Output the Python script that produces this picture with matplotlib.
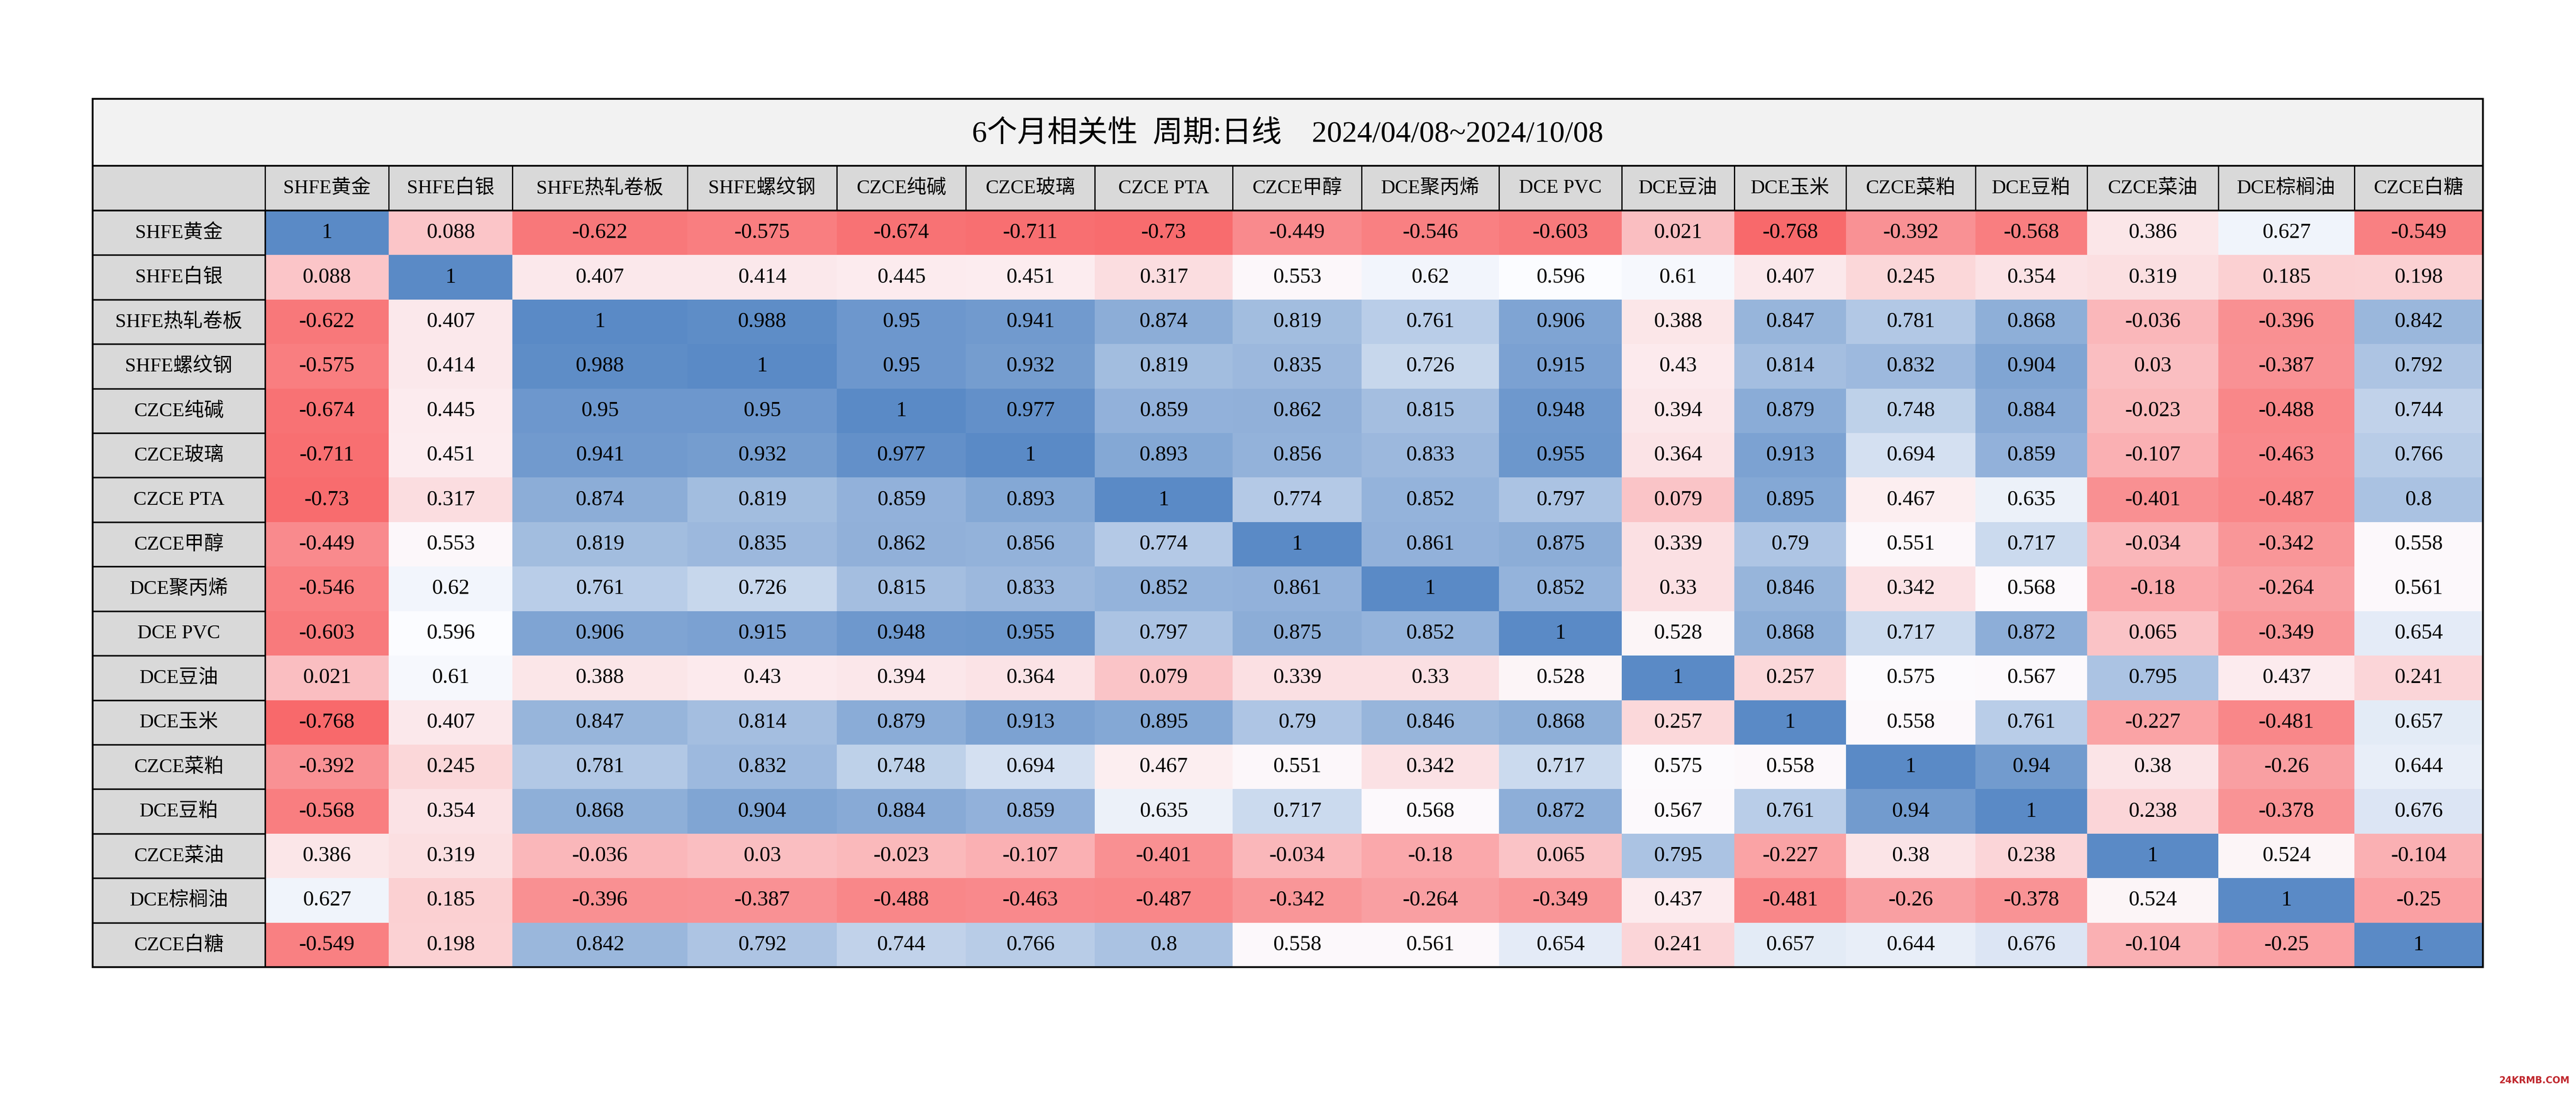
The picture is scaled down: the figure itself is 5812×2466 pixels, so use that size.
import numpy as np
import matplotlib.pyplot as plt
from matplotlib.patches import Rectangle
from matplotlib.colors import LinearSegmentedColormap, TwoSlopeNorm

plt.rcParams['font.family'] = ['Liberation Serif', 'Noto Sans CJK SC']

title = '6个月相关性  周期:日线    2024/04/08~2024/10/08'
labels = ['SHFE黄金', 'SHFE白银', 'SHFE热轧卷板', 'SHFE螺纹钢', 'CZCE纯碱', 'CZCE玻璃',
          'CZCE PTA', 'CZCE甲醇', 'DCE聚丙烯', 'DCE PVC', 'DCE豆油', 'DCE玉米',
          'CZCE菜粕', 'DCE豆粕', 'CZCE菜油', 'DCE棕榈油', 'CZCE白糖']

corr = np.array([
    [1, 0.088, -0.622, -0.575, -0.674, -0.711, -0.73, -0.449, -0.546, -0.603, 0.021, -0.768, -0.392, -0.568, 0.386, 0.627, -0.549],
    [0.088, 1, 0.407, 0.414, 0.445, 0.451, 0.317, 0.553, 0.62, 0.596, 0.61, 0.407, 0.245, 0.354, 0.319, 0.185, 0.198],
    [-0.622, 0.407, 1, 0.988, 0.95, 0.941, 0.874, 0.819, 0.761, 0.906, 0.388, 0.847, 0.781, 0.868, -0.036, -0.396, 0.842],
    [-0.575, 0.414, 0.988, 1, 0.95, 0.932, 0.819, 0.835, 0.726, 0.915, 0.43, 0.814, 0.832, 0.904, 0.03, -0.387, 0.792],
    [-0.674, 0.445, 0.95, 0.95, 1, 0.977, 0.859, 0.862, 0.815, 0.948, 0.394, 0.879, 0.748, 0.884, -0.023, -0.488, 0.744],
    [-0.711, 0.451, 0.941, 0.932, 0.977, 1, 0.893, 0.856, 0.833, 0.955, 0.364, 0.913, 0.694, 0.859, -0.107, -0.463, 0.766],
    [-0.73, 0.317, 0.874, 0.819, 0.859, 0.893, 1, 0.774, 0.852, 0.797, 0.079, 0.895, 0.467, 0.635, -0.401, -0.487, 0.8],
    [-0.449, 0.553, 0.819, 0.835, 0.862, 0.856, 0.774, 1, 0.861, 0.875, 0.339, 0.79, 0.551, 0.717, -0.034, -0.342, 0.558],
    [-0.546, 0.62, 0.761, 0.726, 0.815, 0.833, 0.852, 0.861, 1, 0.852, 0.33, 0.846, 0.342, 0.568, -0.18, -0.264, 0.561],
    [-0.603, 0.596, 0.906, 0.915, 0.948, 0.955, 0.797, 0.875, 0.852, 1, 0.528, 0.868, 0.717, 0.872, 0.065, -0.349, 0.654],
    [0.021, 0.61, 0.388, 0.43, 0.394, 0.364, 0.079, 0.339, 0.33, 0.528, 1, 0.257, 0.575, 0.567, 0.795, 0.437, 0.241],
    [-0.768, 0.407, 0.847, 0.814, 0.879, 0.913, 0.895, 0.79, 0.846, 0.868, 0.257, 1, 0.558, 0.761, -0.227, -0.481, 0.657],
    [-0.392, 0.245, 0.781, 0.832, 0.748, 0.694, 0.467, 0.551, 0.342, 0.717, 0.575, 0.558, 1, 0.94, 0.38, -0.26, 0.644],
    [-0.568, 0.354, 0.868, 0.904, 0.884, 0.859, 0.635, 0.717, 0.568, 0.872, 0.567, 0.761, 0.94, 1, 0.238, -0.378, 0.676],
    [0.386, 0.319, -0.036, 0.03, -0.023, -0.107, -0.401, -0.034, -0.18, 0.065, 0.795, -0.227, 0.38, 0.238, 1, 0.524, -0.104],
    [0.627, 0.185, -0.396, -0.387, -0.488, -0.463, -0.487, -0.342, -0.264, -0.349, 0.437, -0.481, -0.26, -0.378, 0.524, 1, -0.25],
    [-0.549, 0.198, 0.842, 0.792, 0.744, 0.766, 0.8, 0.558, 0.561, 0.654, 0.241, 0.657, 0.644, 0.676, -0.104, -0.25, 1],
])

# layout in pixels
W, H = 5812, 2466
col_edges = np.array([209, 598, 877, 1156, 1551, 1888, 2179, 2470, 2781, 3072, 3382,
                      3659, 3913, 4165, 4457, 4709, 5005, 5312, 5602])
top, title_bot, head_bot, bottom = 223, 374, 475, 2182
row_edges = np.linspace(head_bot, bottom, len(labels) + 1)
left, right = col_edges[0], col_edges[-1]
col_mid = (col_edges[:-1] + col_edges[1:]) / 2
row_mid = (row_edges[:-1] + row_edges[1:]) / 2

fig = plt.figure(figsize=(W / 100, H / 100), dpi=100)
ax = fig.add_axes([0, 0, 1, 1])
ax.set_xlim(0, W)
ax.set_ylim(H, 0)
ax.axis('off')

# excel style 3 colour scale: min red, median white, max blue
cmap = LinearSegmentedColormap.from_list('excel3', ['#F8696B', '#FCFCFF', '#5A8AC6'])
norm = TwoSlopeNorm(vmin=corr.min(), vcenter=np.percentile(corr, 50), vmax=corr.max())
ax.pcolormesh(col_edges[1:], row_edges, corr, cmap=cmap, norm=norm, shading='flat')

ax.add_patch(Rectangle((left, top), right - left, title_bot - top, fc='#F2F2F2', ec='none'))
ax.add_patch(Rectangle((left, title_bot), right - left, head_bot - title_bot, fc='#D9D9D9', ec='none'))
ax.add_patch(Rectangle((left, head_bot), col_edges[1] - left, bottom - head_bot, fc='#D9D9D9', ec='none'))

ax.text((left + right) / 2, (top + title_bot) / 2 + 4, title, ha='center', va='center',
        fontsize=49, fontweight='medium')

for x, lab in zip(col_mid[1:], labels):
    ax.text(x, (title_bot + head_bot) / 2, lab, ha='center', va='center', fontsize=32, fontweight='medium')
for y, lab in zip(row_mid, labels):
    ax.text(col_mid[0], y, lab, ha='center', va='center', fontsize=32, fontweight='medium')

for i, y in enumerate(row_mid):
    for j, x in enumerate(col_mid[1:]):
        ax.text(x, y, f'{corr[i, j]:g}', ha='center', va='center', fontsize=35)

# borders
ax.vlines(col_edges[1:-1], title_bot, head_bot, color='black', lw=2)
ax.hlines(row_edges[1:-1], left, col_edges[1], color='black', lw=2.5)
ax.vlines(col_edges[1], head_bot, bottom, color='black', lw=2.5)
ax.hlines([title_bot, head_bot], left, right, color='black', lw=2.8)
ax.add_patch(Rectangle((left, top), right - left, bottom - top, fc='none', ec='black', lw=3, zorder=5))

ax.text(5798, 2438, '24KRMB.COM', ha='right', va='center', fontsize=15,
        color='#C0272D', family='DejaVu Sans', fontweight='bold')

fig.savefig('out.png', dpi=100, facecolor='white')
